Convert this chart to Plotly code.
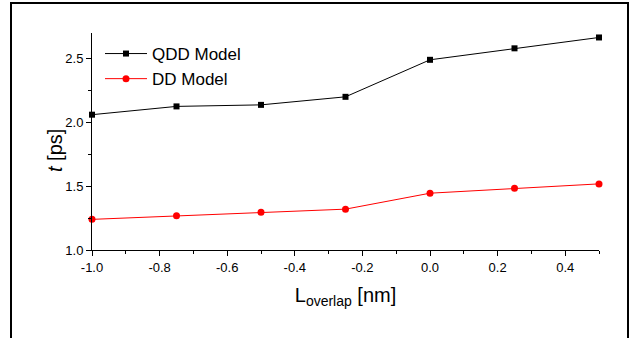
import plotly.graph_objects as go

x_vals = [-1.0, -0.75, -0.5, -0.25, 0.0, 0.25, 0.5]
qdd_vals = [2.06, 2.125, 2.137, 2.20, 2.49, 2.58, 2.665]
dd_vals = [1.24, 1.268, 1.295, 1.32, 1.445, 1.484, 1.518]

x_ticks = [-1.0, -0.8, -0.6, -0.4, -0.2, 0.0, 0.2, 0.4]
x_ticktext = ["-1.0", "-0.8", "-0.6", "-0.4", "-0.2", "0.0", "0.2", "0.4"]
y_ticks = [1.0, 1.5, 2.0, 2.5]
y_ticktext = ["1.0", "1.5", "2.0", "2.5"]

FONT = "Liberation Sans, Arial, sans-serif"

fig = go.Figure()
fig.add_trace(go.Scatter(
    x=x_vals, y=qdd_vals, mode="lines+markers", name="QDD Model",
    line=dict(color="black", width=1),
    marker=dict(symbol="square", size=6, color="black"),
    cliponaxis=False,
))
fig.add_trace(go.Scatter(
    x=x_vals, y=dd_vals, mode="lines+markers", name="DD Model",
    line=dict(color="#ff0000", width=1),
    marker=dict(symbol="circle", size=7, color="#ff0000"),
    cliponaxis=False,
))

L, R, T, B = 92, 36, 33, 88
W, H = 635, 338
pw, ph = W - L - R, H - T - B

def px2x(px):
    return (px - L) / pw

def px2y(py):
    return (H - B - py) / ph

fig.update_layout(
    width=W, height=H,
    margin=dict(l=L, r=R, t=T, b=B, pad=0),
    paper_bgcolor="white", plot_bgcolor="white",
    font=dict(family=FONT, color="black", size=13),
    showlegend=True,
    legend=dict(
        x=px2x(100), y=px2y(36), xanchor="left", yanchor="top",
        bgcolor="rgba(0,0,0,0)", font=dict(size=17, family=FONT),
        itemwidth=42, tracegroupgap=0,
    ),
    xaxis=dict(
        range=[-1.0, 0.5], tickvals=x_ticks, ticktext=x_ticktext,
        showgrid=False, zeroline=False, showline=True, linecolor="black", linewidth=1,
        ticks="outside", ticklen=5, tickcolor="black", tickwidth=1,
        minor=dict(ticks="outside", ticklen=3, dtick=0.1, tickcolor="black"),
        tickfont=dict(size=13, family=FONT),
        title=dict(text="L<sub>overlap</sub> [nm]", font=dict(size=20, family=FONT), standoff=14),
    ),
    yaxis=dict(
        range=[1.0, 2.7], tickvals=y_ticks, ticktext=y_ticktext,
        showgrid=False, zeroline=False, showline=True, linecolor="black", linewidth=1,
        ticks="outside", ticklen=5, tickcolor="black", tickwidth=1,
        minor=dict(ticks="outside", ticklen=3, dtick=0.25, tickcolor="black"),
        tickfont=dict(size=13, family=FONT),
    ),
    annotations=[dict(
        text="<i>t</i> [ps]", xref="paper", yref="paper",
        x=px2x(55), y=px2y(151), xanchor="center", yanchor="middle",
        textangle=-90, showarrow=False, font=dict(size=20, family=FONT),
    )],
)

# outer page frame
fig.add_shape(type="line", xref="paper", yref="paper",
              x0=px2x(11), x1=px2x(11), y0=px2y(3), y1=px2y(345),
              line=dict(color="black", width=2))
fig.add_shape(type="line", xref="paper", yref="paper",
              x0=px2x(10), x1=px2x(629), y0=px2y(3), y1=px2y(3),
              line=dict(color="black", width=2))
fig.add_shape(type="line", xref="paper", yref="paper",
              x0=px2x(628), x1=px2x(628), y0=px2y(3), y1=px2y(345),
              line=dict(color="black", width=2))

fig.write_html("out.html")
